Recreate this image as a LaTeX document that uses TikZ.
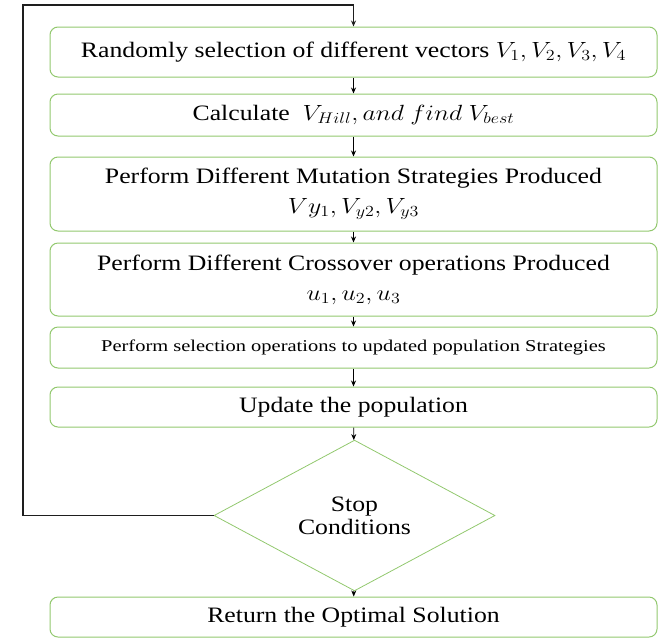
\RequirePackage{fix-cm}
\documentclass[tikz,border=0pt]{standalone}
\usepackage{fontspec}
\setmainfont{Liberation Serif}
\newfontfamily\tnr{Liberation Serif}
\usetikzlibrary{arrows.meta,shapes.geometric}
\definecolor{boxgreen}{RGB}{146,200,110}
\definecolor{loopgray}{RGB}{30,30,30}
\newcommand{\hsbig}[1]{\scalebox{1.17}[1]{#1}}
\newcommand{\hssmall}[1]{\scalebox{1.24}[1]{#1}}
\begin{document}
\begin{tikzpicture}[x=1pt,y=-1pt,
  stepbox/.style={draw=boxgreen,line width=1pt,rounded corners=8pt,
    minimum width=607pt,inner sep=0pt,align=center,
    font=\tnr\fontsize{22}{30}\selectfont},
  decbox/.style={draw=boxgreen,line width=0.8pt,shape=diamond,
    minimum width=281pt,minimum height=141pt,inner sep=0pt,align=center,
    font=\tnr\fontsize{22}{23}\selectfont},
  arr/.style={draw=black,line width=0.8pt,-{Stealth[length=6pt,width=5pt]}},
  loopline/.style={draw=loopgray,line width=1.6pt,-{Stealth[length=6pt,width=5pt]}}]
\useasboundingbox (0,0) rectangle (658,638);
\node[stepbox,minimum height=50pt] (b1) at (353.5,52)
  {\hsbig{Randomly selection of different vectors $V_1,V_2,V_3,V_4$}};
\node[stepbox,minimum height=42pt] (b2) at (353.5,115)
  {\hsbig{Calculate\ \ $V_{Hill}, and\ find\ V_{best}$}};
\node[stepbox,minimum height=74pt] (b3) at (353.5,194)
  {\hsbig{Perform Different Mutation Strategies Produced}\\ \hsbig{$Vy_1,V_{y2},V_{y3}$}};
\node[stepbox,minimum height=73pt] (b4) at (353.5,279.5)
  {\hsbig{Perform Different Crossover operations Produced}\\ \hsbig{$u_1,u_2,u_3$}};
\node[stepbox,minimum height=41pt,font=\tnr\fontsize{16.5}{20}\selectfont] (b5) at (353.5,347.5)
  {\hssmall{Perform selection operations to updated population Strategies}};
\node[stepbox,minimum height=40pt] (b6) at (353.5,407)
  {\hsbig{Update the population}};
\node[decbox] (d) at (354.5,515.5) {\hsbig{Stop}\\ \hsbig{Conditions}};
\node[stepbox,minimum height=40pt] (b7) at (353.5,617)
  {\hsbig{Return the Optimal Solution}};
\coordinate (lc) at (23,5);
\draw[arr] (b1) -- (b2);
\draw[arr] (b2) -- (b3);
\draw[arr] (b3) -- (b4);
\draw[arr] (b4) -- (b5);
\draw[arr] (b5) -- (b6);
\draw[arr] (b6) -- (d);
\draw[arr] (d) -- (b7);
\draw[loopline] (d.west) -| (lc) -| (b1.north);
\end{tikzpicture}
\end{document}
